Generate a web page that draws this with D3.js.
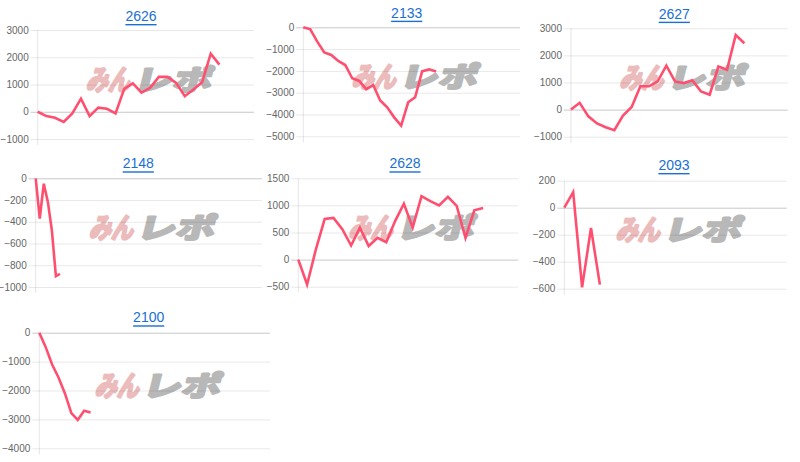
<!DOCTYPE html>
<html><head><meta charset="utf-8">
<script src="https://cdn.jsdelivr.net/npm/d3@7"></script>
<style>
html,body{margin:0;padding:0;background:#fff;}
svg{display:block;}
</style></head>
<body>
<svg id="chart" width="800" height="462"></svg>
<script>
// ---- data ----
const titles = ["2626", "2133", "2627", "2148", "2628", "2093", "2100"];
const values2626 = [0, -160, -220, -370, -60, 480, -160, 150, 110, -60, 840, 1040, 700, 880, 1280, 1280, 1060, 570, 820, 1080, 2130, 1730];
const values2133 = [0, -90, -660, -1150, -1270, -1540, -1730, -2340, -2460, -2840, -2650, -3360, -3670, -4130, -4510, -3440, -3210, -2020, -1930, -2030];
const values2627 = [0, 250, -250, -510, -650, -760, -220, 100, 860, 860, 1040, 1620, 1040, 980, 1080, 670, 550, 1590, 1470, 2750, 2450];
const values2148 = [0, -370, -50, -215, -480, -900, -880];
const values2628 = [0, -460, 190, 750, 770, 560, 260, 590, 250, 400, 320, 710, 1030, 590, 1170, 1080, 1000, 1160, 990, 400, 910, 950];
const values2093 = [0, 115, -590, -150, -570];
const values2100 = [0, -500, -1100, -1550, -2100, -2780, -3020, -2700, -2760];

const ticks2626 = [-1000, 0, 1000, 2000, 3000];
const ticks2133 = [-5000, -4000, -3000, -2000, -1000, 0];
const ticks2627 = [-1000, 0, 1000, 2000, 3000];
const ticks2148 = [-1000, -800, -600, -400, -200, 0];
const ticks2628 = [-500, 0, 500, 1000, 1500];
const ticks2093 = [-600, -400, -200, 0, 200];
const ticks2100 = [-4000, -3000, -2000, -1000, 0];

// number of x slots (intervals) on each panel's category axis
const xSlots = [25, 31, 25, 56, 25, 25, 36];

const seriesList = [values2626, values2133, values2627, values2148, values2628, values2093, values2100];
const tickList = [ticks2626, ticks2133, ticks2627, ticks2148, ticks2628, ticks2093, ticks2100];

// ---- layout (pixel boxes for each small chart) ----
const layout = [
  {tx: 141,   ty: 16,    l: 37.7,  r: 254,   t: 30,    b: 139},
  {tx: 406.7, ty: 12.7,  l: 303.3, r: 520,   t: 27.3,  b: 136.3},
  {tx: 674.3, ty: 13.7,  l: 571,   r: 787.7, t: 28.3,  b: 136.7},
  {tx: 138.3, ty: 163.3, l: 35.7,  r: 262,   t: 178.3, b: 287},
  {tx: 405,   ty: 163.3, l: 298.3, r: 518.3, t: 178.3, b: 286.7},
  {tx: 674,   ty: 165,   l: 564.3, r: 786.7, t: 180.7, b: 288.7},
  {tx: 148.7, ty: 317.3, l: 39.3,  r: 270,   t: 332.7, b: 448.3}
];

const svg = d3.select("#chart");
const lineColor = "#ff4f70";
const fontFam = "'Liberation Sans', Arial, Helvetica, sans-serif";

titles.forEach((title, i) => {
  const L = layout[i];
  const vals = seriesList[i];
  const ticks = tickList[i];
  const g = svg.append("g");

  const x = d3.scaleLinear().domain([0, xSlots[i]]).range([L.l, L.r]);
  const y = d3.scaleLinear().domain(d3.extent(ticks)).range([L.b, L.t]);

  // title (link style)
  g.append("text")
    .attr("x", L.tx).attr("y", L.ty)
    .attr("text-anchor", "middle").attr("dominant-baseline", "central")
    .attr("font-family", fontFam).attr("font-size", 14)
    .attr("fill", "#1a6fd6")
    .attr("text-decoration", "underline")
    .text(title);

  // watermark (behind grid/line)
  const cx = (L.l + L.r) / 2 + 8, cy = (L.t + L.b) / 2 - 7;
  const wm = g.append("g").attr("transform", `translate(${cx},${cy}) skewX(-14)`);
  wm.append("text")
    .attr("x", -65).attr("y", 0).attr("dominant-baseline", "central")
    .attr("font-family", "'Noto Sans CJK JP', sans-serif").attr("font-weight", 700)
    .attr("font-size", 28).attr("fill", "#ecbcbc")
    .attr("stroke", "#ecbcbc").attr("stroke-width", 2.6).attr("stroke-linejoin", "round")
    .attr("textLength", 44).attr("lengthAdjust", "spacingAndGlyphs")
    .text("みん");
  wm.append("text")
    .attr("x", -18).attr("y", 0).attr("dominant-baseline", "central")
    .attr("font-family", "'Noto Sans CJK JP', sans-serif").attr("font-weight", 700)
    .attr("font-size", 28).attr("fill", "#b8b8b8")
    .attr("stroke", "#b8b8b8").attr("stroke-width", 2.6).attr("stroke-linejoin", "round")
    .attr("textLength", 78).attr("lengthAdjust", "spacingAndGlyphs")
    .text("レポ");

  // gridlines + tick labels via d3 axis
  const yAxis = d3.axisLeft(y).tickValues(ticks).tickSize(-(L.r - L.l)).tickPadding(9)
    .tickFormat(d3.format("d"));
  const ag = g.append("g").attr("transform", `translate(${L.l},0)`).call(yAxis);
  ag.select(".domain").remove();
  ag.selectAll(".tick line")
    .attr("x1", -7)
    .attr("stroke", d => d === 0 ? "rgba(0,0,0,0.22)" : "rgba(0,0,0,0.09)")
    .attr("stroke-width", 1);
  ag.selectAll(".tick text")
    .attr("font-family", fontFam).attr("font-size", 10).attr("fill", "#666");

  // vertical axis line
  g.append("line")
    .attr("x1", L.l).attr("x2", L.l).attr("y1", L.t).attr("y2", L.b + 6)
    .attr("stroke", "rgba(0,0,0,0.1)");

  // line
  const line = d3.line().x((d, k) => x(k)).y(d => y(d));
  g.append("path").datum(vals)
    .attr("d", line)
    .attr("fill", "none")
    .attr("stroke", lineColor)
    .attr("stroke-width", 2.6)
    .attr("stroke-linejoin", "miter");
});
</script>
</body></html>
